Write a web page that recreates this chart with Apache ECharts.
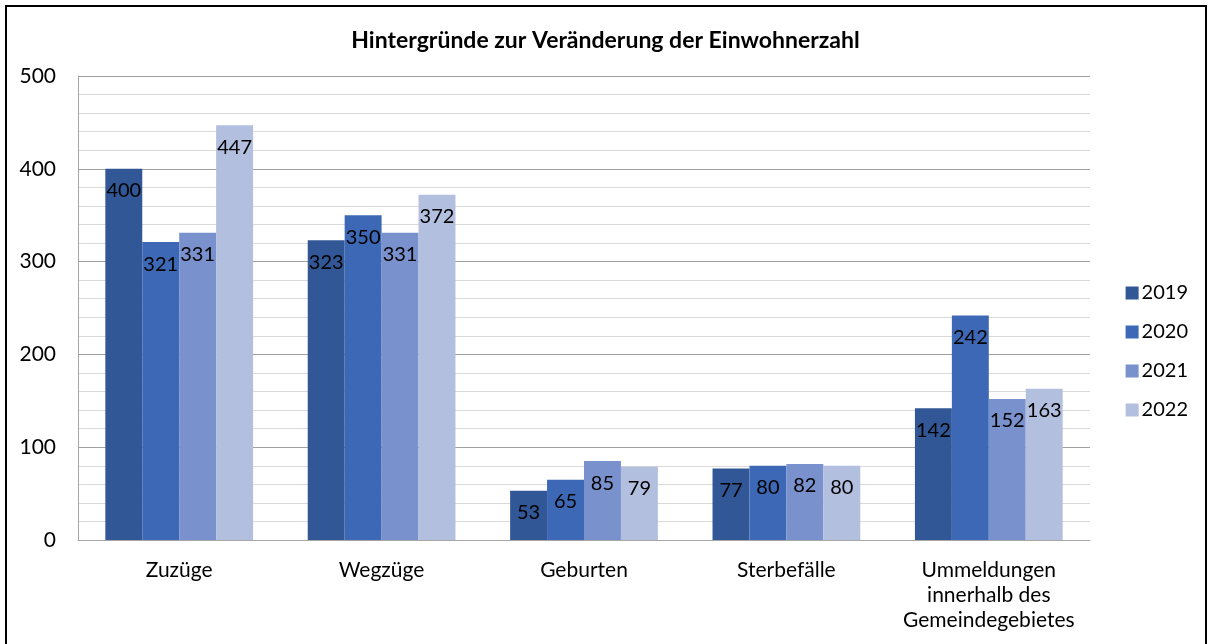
<!DOCTYPE html>
<html>
<head>
<meta charset="utf-8">
<script src="https://cdn.jsdelivr.net/npm/echarts@6/dist/echarts.min.js"></script>
<style>
html,body{margin:0;padding:0;background:#fff;}
#chart{width:1211px;height:644px;}
</style>
</head>
<body>
<div id="chart"></div>
<script>
const categories = ['Zuzüge', 'Wegzüge', 'Geburten', 'Sterbefälle', 'Ummeldungen\ninnerhalb des\nGemeindegebietes'];
const years = ['2019', '2020', '2021', '2022'];
const v2019 = [400, 323, 53, 77, 142];
const v2020 = [321, 350, 65, 80, 242];
const v2021 = [331, 331, 85, 82, 152];
const v2022 = [447, 372, 79, 80, 163];
const yTicks = [0, 100, 200, 300, 400, 500];
const colors = ['#315796', '#3D68B5', '#7991CD', '#B3BFDF'];

const seriesValues = [v2019, v2020, v2021, v2022];
const FONT = 'Lato, "Open Sans", sans-serif';

const chart = echarts.init(document.getElementById('chart'));
chart.setOption({
  animation: false,
  textStyle: { fontFamily: FONT },
  title: {
    text: 'Hintergründe zur Veränderung der Einwohnerzahl',
    left: 'center',
    top: 24,
    textStyle: { fontFamily: FONT, fontWeight: 'bold', fontSize: 23, color: '#000' }
  },
  graphic: [{
    type: 'rect',
    shape: { x: 6, y: 6, width: 1200, height: 700 },
    style: { fill: 'none', stroke: '#000', lineWidth: 2 },
    silent: true
  }],
  legend: {
    orient: 'vertical',
    right: 18,
    top: 278,
    itemWidth: 13,
    itemHeight: 13,
    itemGap: 19,
    icon: 'rect',
    textStyle: { fontFamily: FONT, fontSize: 20, color: '#000', padding: [0, 0, 0, -2] },
    data: years
  },
  grid: { left: 78, right: 121, top: 76, bottom: 104 },
  xAxis: {
    type: 'category',
    data: categories,
    axisLine: { lineStyle: { color: '#a6a6a6', width: 1 } },
    axisTick: { show: false },
    axisLabel: { interval: 0, fontFamily: FONT, fontSize: 21, color: '#000', margin: 18, lineHeight: 25 }
  },
  yAxis: {
    type: 'value',
    min: yTicks[0],
    max: yTicks[yTicks.length - 1],
    interval: 100,
    axisLine: { show: true, lineStyle: { color: '#a6a6a6', width: 1 } },
    axisTick: { show: false },
    axisLabel: { fontFamily: FONT, fontSize: 21, color: '#000', margin: 22 },
    splitLine: { lineStyle: { color: '#a0a0a0', width: 1 } },
    minorTick: { show: false, splitNumber: 5 },
    minorSplitLine: { show: true, lineStyle: { color: '#d9d9d9', width: 1 } }
  },
  series: years.map((y, i) => ({
    name: y,
    type: 'bar',
    data: seriesValues[i],
    barGap: '0%',
    barCategoryGap: '27%',
    itemStyle: { color: colors[i] },
    label: {
      show: true,
      position: 'insideTop',
      distance: 12,
      fontFamily: FONT,
      fontSize: 20,
      color: '#000'
    }
  }))
});
</script>
</body>
</html>
